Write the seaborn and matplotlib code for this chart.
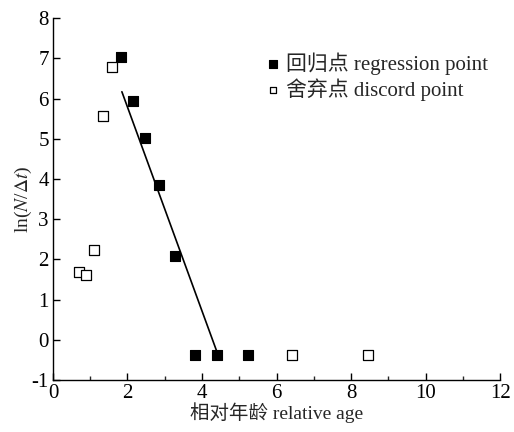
import matplotlib
matplotlib.use('Agg')
import matplotlib.pyplot as plt
import seaborn as sns
from matplotlib.ticker import MultipleLocator

# regression points (filled squares)
reg_x = [1.83, 2.15, 2.47, 2.85, 3.28, 3.81, 4.40, 5.23]
reg_y = [7.03, 5.93, 5.02, 3.86, 2.09, -0.37, -0.37, -0.37]

# discarded points (open squares)
dis_x = [0.70, 0.89, 1.10, 1.34, 1.58, 6.42, 8.46]
dis_y = [1.69, 1.62, 2.24, 5.57, 6.79, -0.37, -0.37]

# fitted line end points
fit_x = [1.85, 4.43]
fit_y = [6.17, -0.37]

sns.set_style('ticks')
plt.rcParams['font.family'] = ['Liberation Serif', 'Noto Sans CJK SC']
plt.rcParams['mathtext.fontset'] = 'stix'
plt.rcParams['axes.unicode_minus'] = False

fig = plt.figure(figsize=(5.14, 4.32), dpi=100)
ax = fig.add_axes([0.103, 0.120, 0.870, 0.838])

sns.lineplot(x=fit_x, y=fit_y, ax=ax, color='black', linewidth=1.2)
sns.scatterplot(x=reg_x, y=reg_y, ax=ax, marker='s', s=55, color='black',
                edgecolor='black', linewidth=0.8, label='回归点 regression point', zorder=3)
sns.scatterplot(x=dis_x, y=dis_y, ax=ax, marker='s', s=45, color='white',
                edgecolor='black', linewidth=0.9, label='舍弃点 discord point', zorder=3)

ax.set_xlim(0, 12)
ax.set_ylim(-1, 8)
ax.xaxis.set_major_locator(MultipleLocator(2))
ax.xaxis.set_minor_locator(MultipleLocator(1))
ax.yaxis.set_major_locator(MultipleLocator(1))
ax.tick_params(axis='both', which='major', direction='in', length=5, width=1,
               labelsize=15, colors='black', pad=3)
ax.tick_params(axis='x', which='minor', direction='in', length=3, width=1)
for s in ['left', 'bottom']:
    ax.spines[s].set_linewidth(1.0)
    ax.spines[s].set_color('black')
sns.despine(ax=ax)

ax.set_xlabel('相对年龄 relative age', fontsize=14, labelpad=-1)
ax.set_ylabel(r'ln($N$/$\Delta t$)', fontsize=14, labelpad=-2)

ax.legend(loc='upper right', bbox_to_anchor=(1.0, 0.94), frameon=False,
          fontsize=15, handletextpad=0.0, handlelength=1.2, labelspacing=0.15,
          borderaxespad=0.2, markerscale=0.75)

fig.savefig('out.png', dpi=100)
